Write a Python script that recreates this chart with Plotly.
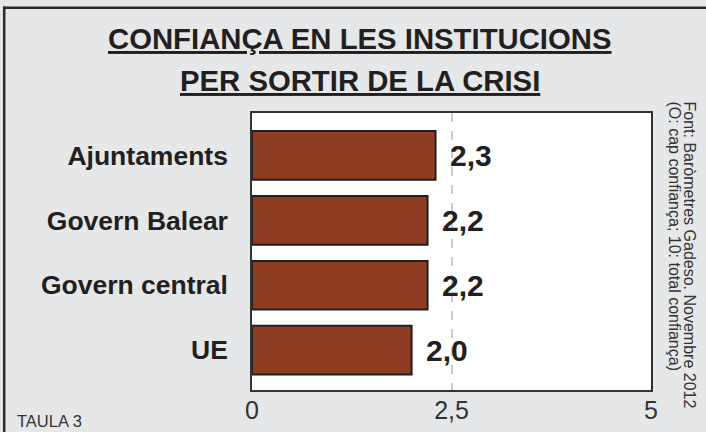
import plotly.graph_objects as go

categories = ["Ajuntaments", "Govern Balear", "Govern central", "UE"]
values = [2.3, 2.2, 2.2, 2.0]
value_labels = ["2,3", "2,2", "2,2", "2,0"]
tick_vals = [0, 2.5, 5]
tick_text = ["0", "2,5", "5"]
title_lines = ["CONFIANÇA EN LES INSTITUCIONS", "PER SORTIR DE LA CRISI"]
source_lines = ["Font: Baròmetres Gadeso. Novembre 2012",
                "(O: cap confiança; 10: total confiança)"]
table_label = "TAULA 3"

W, H = 706, 432
L, R, T, B = 252, 55, 113, 42
PW, PH = W - L - R, H - T - B

def px_x(px):
    return (px - L) / PW

def px_y(py):
    return (H - B - py) / PH

FONT = "Liberation Sans, Arial, sans-serif"
DARK = "#231f20"

fig = go.Figure()
fig.add_trace(go.Bar(
    x=values, y=categories, orientation="h",
    width=0.75,
    marker=dict(color="#8e3c22", line=dict(color=DARK, width=2)),
    hoverinfo="skip",
))

annotations = []
for c, v, lab in zip(categories, values, value_labels):
    annotations.append(dict(
        x=v, y=c, xref="x", yref="y", text=lab, showarrow=False,
        xanchor="left", yanchor="middle", xshift=12,
        font=dict(family=FONT, size=30, color=DARK, weight="bold"),
    ))

title_y = [38.8, 80.5]
for t, py in zip(title_lines, title_y):
    annotations.append(dict(
        x=px_x(359.5), y=px_y(py), xref="paper", yref="paper", text=t,
        showarrow=False, xanchor="center", yanchor="middle",
        font=dict(family=FONT, size=29.3, color=DARK, weight="bold", lineposition="under"),
    ))

src_x = [689, 674]
for t, px in zip(source_lines, src_x):
    annotations.append(dict(
        x=px_x(px), y=px_y(99), xref="paper", yref="paper", text=t,
        showarrow=False, xanchor="center", yanchor="top", textangle=90,
        font=dict(family=FONT, size=16, color="#333333"),
    ))

annotations.append(dict(
    x=px_x(15), y=px_y(420.5), xref="paper", yref="paper", text=table_label,
    showarrow=False, xanchor="left", yanchor="middle",
    font=dict(family=FONT, size=16.5, color="#333333"),
))

shapes = [
    dict(type="line", xref="paper", yref="paper",
         x0=px_x(3), x1=px_x(720), y0=px_y(7.8), y1=px_y(7.8),
         line=dict(color="#2b2b2b", width=2.5)),
    dict(type="line", xref="paper", yref="paper",
         x0=px_x(4.2), x1=px_x(4.2), y0=px_y(6.5), y1=px_y(445),
         line=dict(color="#2b2b2b", width=2.5)),
]

fig.update_layout(
    width=W, height=H,
    margin=dict(l=L, r=R, t=T, b=B, pad=0, autoexpand=False),
    paper_bgcolor="#e6e7e8", plot_bgcolor="#ffffff",
    showlegend=False,
    annotations=annotations,
    shapes=shapes,
    xaxis=dict(
        range=[0, 5], tickvals=tick_vals, ticktext=tick_text,
        showgrid=True, gridcolor="#cccccc", gridwidth=1.5, griddash="dash",
        zeroline=False, showline=True, mirror=True, linecolor="#333333", linewidth=1.5,
        ticks="", ticklabelstandoff=-3, automargin=False,
        tickfont=dict(family=FONT, size=25, color="#333333"),
        fixedrange=True,
    ),
    yaxis=dict(
        categoryorder="array", categoryarray=categories,
        range=[3.615, -0.654],
        showgrid=False, zeroline=False,
        showline=True, mirror=True, linecolor="#333333", linewidth=1.5,
        ticks="", ticklabelstandoff=17, automargin=False,
        tickfont=dict(family=FONT, size=26.5, color=DARK, weight="bold"),
        fixedrange=True,
    ),
)

fig.write_html("out.html", config={"displayModeBar": False})
